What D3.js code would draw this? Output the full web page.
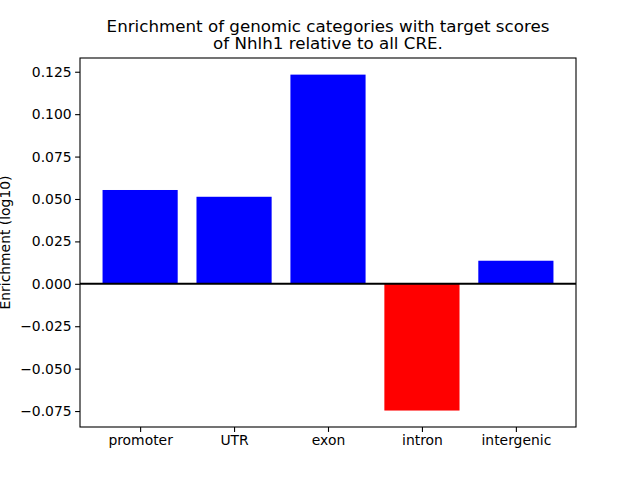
<!DOCTYPE html>
<html>
<head>
<meta charset="utf-8">
<script src="https://cdn.jsdelivr.net/npm/d3@7"></script>
<style>
  body { margin: 0; background: #fff; }
  svg { display: block; font-family: "DejaVu Sans", sans-serif; }
</style>
</head>
<body>
<svg id="chart" width="640" height="480"></svg>
<script>
const categories = ["promoter", "UTR", "exon", "intron", "intergenic"];
const values = [0.0553, 0.0513, 0.1233, -0.0747, 0.0136];
const yTicks = [-0.075, -0.050, -0.025, 0.000, 0.025, 0.050, 0.075, 0.100, 0.125];
const titleLines = ["Enrichment of genomic categories with target scores", "of Nhlh1 relative to all CRE."];
const yLabel = "Enrichment (log10)";

const svg = d3.select("#chart");
const mLeft = 80, mRight = 576, mTop = 58, mBottom = 427;

const x = d3.scaleLinear().domain([-0.64, 4.64]).range([mLeft, mRight]);
const y = d3.scaleLinear().domain([-0.0844, 0.1331]).range([mBottom, mTop]);
const barW = 0.8;

svg.append("g").selectAll("rect")
  .data(values)
  .join("rect")
  .attr("x", (d, i) => x(i - barW / 2))
  .attr("width", (d, i) => x(i + barW / 2) - x(i - barW / 2))
  .attr("y", d => y(Math.max(0, d)))
  .attr("height", d => Math.abs(y(d) - y(0)))
  .attr("fill", d => d >= 0 ? "#0000ff" : "#ff0000");

// zero line
svg.append("line")
  .attr("x1", mLeft).attr("x2", mRight)
  .attr("y1", y(0)).attr("y2", y(0))
  .attr("stroke", "#000").attr("stroke-width", 2);

// axes
const yAxis = d3.axisLeft(y).tickValues(yTicks)
  .tickFormat(d => d3.format(".3f")(d).replace("-", "\u2212"))
  .tickSizeOuter(0).tickSize(4.9).tickPadding(3.5);
const gy = svg.append("g").attr("transform", `translate(${mLeft},0)`).call(yAxis);
gy.select(".domain").remove();
gy.selectAll("text").attr("font-size", "13.9px").attr("font-family", "DejaVu Sans").attr("fill", "#000");
gy.selectAll("line").attr("stroke", "#000").attr("stroke-width", 1.1);

const xAxis = d3.axisBottom(x).tickValues(d3.range(categories.length))
  .tickFormat(i => categories[i]).tickSizeOuter(0).tickSize(4.9).tickPadding(3.5);
const gx = svg.append("g").attr("transform", `translate(0,${mBottom})`).call(xAxis);
gx.select(".domain").remove();
gx.selectAll("text").attr("font-size", "13.9px").attr("font-family", "DejaVu Sans").attr("fill", "#000");
gx.selectAll("line").attr("stroke", "#000").attr("stroke-width", 1.1);

// frame
svg.append("rect")
  .attr("x", mLeft).attr("y", mTop)
  .attr("width", mRight - mLeft).attr("height", mBottom - mTop)
  .attr("fill", "none").attr("stroke", "#000").attr("stroke-width", 1.1);

// title
svg.append("g").selectAll("text")
  .data(titleLines)
  .join("text")
  .attr("x", (mLeft + mRight) / 2)
  .attr("y", (d, i) => 32 + i * 16.5)
  .attr("text-anchor", "middle")
  .attr("font-size", "16.7px")
  .attr("fill", "#000")
  .text(d => d);

// y label
svg.append("text")
  .attr("transform", `translate(10,${(mTop + mBottom) / 2}) rotate(-90)`)
  .attr("text-anchor", "middle")
  .attr("font-size", "13.9px")
  .attr("fill", "#000")
  .text(yLabel);
</script>
</body>
</html>
